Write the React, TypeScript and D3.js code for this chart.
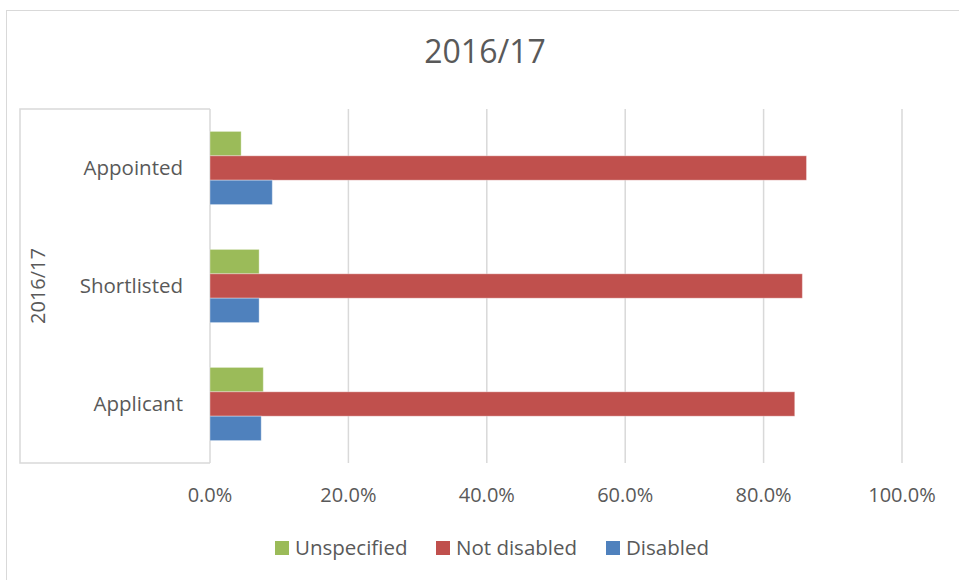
import React from 'react';
import * as d3 from 'd3';

// chart values
const categories = ['Appointed', 'Shortlisted', 'Applicant'];
const seriesNames = ['Unspecified', 'Not disabled', 'Disabled'];
const seriesColors = ['#9BBB59', '#C0504D', '#4F81BD'];
const unspecified = [0.045, 0.071, 0.077];
const notDisabled = [0.862, 0.856, 0.845];
const disabled = [0.090, 0.071, 0.074];
const xTicks = [0, 0.2, 0.4, 0.6, 0.8, 1.0];
const title = '2016/17';
const groupLabel = '2016/17';

const W = 959;
const H = 580;
const font = '"Open Sans", sans-serif';
const textColor = '#595959';
const gridColor = '#D9D9D9';

const App = () => {
    const margins = { left: 210, right: 57, top: 109, bottom: 117 };

    const xScale = d3.scaleLinear()
        .domain([0, 1])
        .range([margins.left, W - margins.right]);

    const yScale = d3.scaleBand<string>()
        .domain(categories)
        .range([margins.top, H - margins.bottom])
        .paddingInner(0.38)
        .paddingOuter(0.19);

    const inner = d3.scaleBand<string>()
        .domain(seriesNames)
        .range([0, yScale.bandwidth()]);

    const values = [unspecified, notDisabled, disabled];
    const fmt = d3.format('.1%');
    const y0 = margins.top;
    const y1 = H - margins.bottom;
    const boxLeft = 20;

    // legend layout
    const legendX = [275, 436, 606];

    return (
        <svg width={W} height={H} style={{ position: 'absolute', left: 0, top: 0, background: '#fff' }}>
            <rect x={6.5} y={10.5} width={960} height={580} fill="#fff" stroke={gridColor} />
            <text x={485} y={63} textAnchor="middle" fontFamily={font} fontSize={32} fill={textColor}>{title}</text>

            {/* gridlines */}
            {xTicks.map(t => (
                <line key={t} x1={xScale(t)} x2={xScale(t)} y1={y0} y2={y1} stroke={gridColor} strokeWidth={1.5} />
            ))}

            {/* category box */}
            <path d={`M${xScale(0)},${y0}H${boxLeft}V${y1}H${xScale(0)}`} fill="none" stroke={gridColor} strokeWidth={1.5} />

            {/* bars */}
            {categories.map((c, ci) => (
                <g key={c} transform={`translate(0,${yScale(c)})`}>
                    {seriesNames.map((s, si) => (
                        <rect key={s}
                            x={xScale(0)}
                            y={inner(s)}
                            width={xScale(values[si][ci]) - xScale(0)}
                            height={inner.bandwidth()}
                            fill={seriesColors[si]}
                            stroke="#fff" strokeOpacity={0.35} strokeWidth={1} />
                    ))}
                </g>
            ))}

            {/* category labels */}
            {categories.map(c => (
                <text key={c} x={183} y={(yScale(c) ?? 0) + yScale.bandwidth() / 2} dy="0.35em"
                    textAnchor="end" fontFamily={font} fontSize={20.5} fill={textColor}>{c}</text>
            ))}
            <text transform={`translate(45,${(y0 + y1) / 2})rotate(-90)`} textAnchor="middle"
                fontFamily={font} fontSize={20} fill={textColor}>{groupLabel}</text>

            {/* x tick labels */}
            {xTicks.map(t => (
                <text key={t} x={xScale(t)} y={495} dy="0.35em" textAnchor="middle"
                    fontFamily={font} fontSize={20} fill={textColor}>{fmt(t)}</text>
            ))}

            {/* legend */}
            {seriesNames.map((s, i) => (
                <g key={s} transform={`translate(${legendX[i]},541)`}>
                    <rect width={14} height={14} fill={seriesColors[i]} />
                    <text x={20} y={7} dy="0.35em" fontFamily={font} fontSize={20.5} fill={textColor}>{s}</text>
                </g>
            ))}
        </svg>
    );
};

export default App;
